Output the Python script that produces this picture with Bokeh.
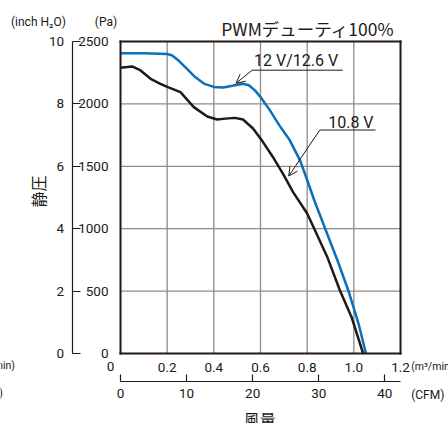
import math
from bokeh.plotting import figure
from bokeh.models import Range1d, LinearAxis, FixedTicker, Label, Arrow, OpenHead, NumeralTickFormatter
from bokeh.embed import file_html
from bokeh.resources import INLINE

# ---------------- data ----------------
flow_12v = [0.0, 0.10, 0.20, 0.22, 0.25, 0.283, 0.32, 0.36, 0.40, 0.44, 0.48, 0.525, 0.55, 0.575,
            0.60, 0.64, 0.68, 0.725, 0.77, 0.80, 0.83, 0.876, 0.93, 0.976, 1.02, 1.052]
pressure_12v = [2405, 2406, 2400, 2390, 2345, 2284, 2215, 2160, 2136, 2131, 2145, 2162, 2150, 2110,
                2056, 1950, 1830, 1710, 1545, 1390, 1230, 1006, 745, 507, 240, 0]

flow_108v = [0.0, 0.05, 0.086, 0.129, 0.171, 0.203, 0.257, 0.314, 0.372, 0.414, 0.45, 0.49, 0.525,
             0.568, 0.61, 0.653, 0.696, 0.739, 0.80, 0.829, 0.886, 0.94, 0.99, 1.04]
pressure_108v = [2290, 2300, 2268, 2201, 2161, 2134, 2094, 1974, 1899, 1875, 1882, 1888, 1875,
                 1803, 1696, 1575, 1442, 1295, 1122, 1006, 774, 507, 293, 0]

flow_ticks = [0.2, 0.4, 0.6, 0.8, 1.0, 1.2]
pa_ticks = [0, 500, 1000, 1500, 2000, 2500]
inch_ticks = [0, 2, 4, 6, 8, 10]
cfm_ticks = [0, 10, 20, 30, 40]
flow_max = 1.2
pa_max = 2500
inch_max = 10
CFM_PER_M3MIN = 35.3147

title_text = "PWMデューティ100%"
label_12v = "12 V/12.6 V"
label_108v = "10.8 V"

# ---------------- layout (pixels) ----------------
W, H = 448, 423
PLOT_L, PLOT_R, PLOT_T, PLOT_B = 120, 400, 41, 353


def dx(px):
    return (px - PLOT_L) / (PLOT_R - PLOT_L) * flow_max


def dy(py):
    return (PLOT_B - py) / (PLOT_B - PLOT_T) * pa_max


INK = "#231815"
BLUE = "#0b6fba"
GRID = "#8c8c8c"
NUM_FONT = "Roboto"
JP_FONT = "Noto Sans CJK JP"
TICK_SIZE = "13.5px"

x_lo, x_hi = dx(0), dx(W)
y_lo, y_hi = dy(H), dy(0)
inch_per_pa = inch_max / pa_max

p = figure(width=W, height=H,
           x_range=Range1d(x_lo, x_hi), y_range=Range1d(y_lo, y_hi),
           output_backend="svg", toolbar_location=None, min_border=0)
p.min_border_left = p.min_border_right = p.min_border_top = p.min_border_bottom = 0
p.outline_line_color = None
p.background_fill_color = "white"
p.border_fill_color = "white"
p.xgrid.visible = False
p.ygrid.visible = False

p.extra_y_ranges = {"inch": Range1d(y_lo * inch_per_pa, y_hi * inch_per_pa)}
p.extra_x_ranges = {"cfm": Range1d(x_lo * CFM_PER_M3MIN, x_hi * CFM_PER_M3MIN)}


def style_numbers(ax, standoff):
    ax.major_label_standoff = standoff
    ax.major_label_text_font = NUM_FONT
    ax.major_label_text_font_size = TICK_SIZE
    ax.major_label_text_color = INK
    ax.minor_tick_line_color = None


# main x axis (m3/min) = bottom edge of the plot box
xa = p.xaxis[0]
xa.fixed_location = 0
xa.bounds = (0, flow_max)
xa.ticker = FixedTicker(ticks=flow_ticks)
xa.formatter = NumeralTickFormatter(format="0.0")
xa.axis_line_color = INK
xa.axis_line_width = 2
xa.axis_line_cap = "square"
xa.major_tick_line_color = None
style_numbers(xa, 3)

# main y axis (Pa) = left edge of the plot box
ya = p.yaxis[0]
ya.fixed_location = 0
ya.bounds = (0, pa_max)
ya.ticker = FixedTicker(ticks=pa_ticks)
ya.axis_line_color = INK
ya.axis_line_width = 2
ya.axis_line_cap = "square"
ya.major_tick_line_color = None
style_numbers(ya, 6)

# top and right edges of the plot box
top_edge = LinearAxis(fixed_location=pa_max, bounds=(0, flow_max), ticker=FixedTicker(ticks=[]),
                      axis_line_color=INK, axis_line_width=2, axis_line_cap="square",
                      major_tick_line_color=None, minor_tick_line_color=None,
                      major_label_text_color=None)
p.add_layout(top_edge, "above")
right_edge = LinearAxis(fixed_location=flow_max, bounds=(0, pa_max), ticker=FixedTicker(ticks=[]),
                        axis_line_color=INK, axis_line_width=2, axis_line_cap="square",
                        major_tick_line_color=None, minor_tick_line_color=None,
                        major_label_text_color=None)
p.add_layout(right_edge, "right")

# inch H2O axis
inch_axis = LinearAxis(y_range_name="inch", ticker=FixedTicker(ticks=inch_ticks),
                       fixed_location=dx(71.7), bounds=(0, inch_max))
inch_axis.axis_line_color = INK
inch_axis.axis_line_width = 1.2
inch_axis.major_tick_line_color = INK
inch_axis.major_tick_line_width = 1.2
inch_axis.major_tick_in = 8
inch_axis.major_tick_out = 0
style_numbers(inch_axis, 8)
p.add_layout(inch_axis, "left")

# CFM axis
cfm_axis = LinearAxis(x_range_name="cfm", ticker=FixedTicker(ticks=cfm_ticks),
                      fixed_location=dy(381.3), bounds=(0, flow_max * CFM_PER_M3MIN))
cfm_axis.axis_line_color = INK
cfm_axis.axis_line_width = 1.2
cfm_axis.major_tick_line_color = INK
cfm_axis.major_tick_line_width = 1.2
cfm_axis.major_tick_in = 7
cfm_axis.major_tick_out = 0
style_numbers(cfm_axis, 7)
p.add_layout(cfm_axis, "below")

# grid lines from the tick lists
vgrid = flow_ticks[:-1]
hgrid = pa_ticks[1:-1]
p.segment(x0=vgrid, y0=[0] * len(vgrid), x1=vgrid, y1=[pa_max] * len(vgrid),
          line_color=GRID, line_width=1.3)
p.segment(x0=[0] * len(hgrid), y0=hgrid, x1=[flow_max] * len(hgrid), y1=hgrid,
          line_color=GRID, line_width=1.3)

# curves
p.line(flow_108v, pressure_108v, line_color=INK, line_width=2.5)
p.line(flow_12v, pressure_12v, line_color=BLUE, line_width=2.5)


def add_text(px, py, text, font=NUM_FONT, size="12px", align="left", baseline="middle", angle=0):
    p.add_layout(Label(x=dx(px), y=dy(py), text=text, text_font=font, text_font_size=size,
                       text_color=INK, text_align=align, text_baseline=baseline, angle=angle))


# callouts
i12 = flow_12v.index(0.48)
p.segment(x0=[dx(251.7)], y0=[dy(69.7)], x1=[dx(342.3)], y1=[dy(69.7)], line_color=INK, line_width=1)
p.add_layout(Arrow(end=OpenHead(size=9, line_width=1, line_color=INK),
                   x_start=dx(251.7), y_start=dy(69.7),
                   x_end=flow_12v[i12] + 0.015, y_end=pressure_12v[i12] + 20,
                   line_color=INK, line_width=1))
add_text(253.5, 60.0, label_12v, size="16px")

i108 = flow_108v.index(0.696)
p.segment(x0=[dx(319.3)], y0=[dy(129.5)], x1=[dx(375)], y1=[dy(129.5)], line_color=INK, line_width=1)
p.add_layout(Arrow(end=OpenHead(size=9, line_width=1, line_color=INK),
                   x_start=dx(319.3), y_start=dy(129.5),
                   x_end=flow_108v[i108] + 0.025, y_end=pressure_108v[i108] - 20,
                   line_color=INK, line_width=1))
add_text(327.7, 121.8, label_108v, size="16px")

# title, unit and axis names
add_text(220.7, 28.0, title_text, font=JP_FONT, size="17.5px")
add_text(37.9, 21.7, "(inch H₂O)", align="center")
add_text(105.5, 21.7, "(Pa)", align="center")
add_text(110, 365.7, "0", size=TICK_SIZE, align="center")
add_text(410.7, 365.7, "(m³/min)", size="10.5px")
add_text(410.7, 394, "(CFM)")
add_text(259.3, 418, "風量", font=JP_FONT, size="16px", align="center")
add_text(37.5, 191, "静圧", font=JP_FONT, size="16px", align="center", angle=math.pi / 2)
# cut-off unit names of the neighbouring chart at the left edge
add_text(14.5, 365, "(m³/min)", size="10.5px", align="right")
add_text(2.5, 392, "(CFM)", align="right")

open("out.html", "w").write(file_html(p, INLINE))
